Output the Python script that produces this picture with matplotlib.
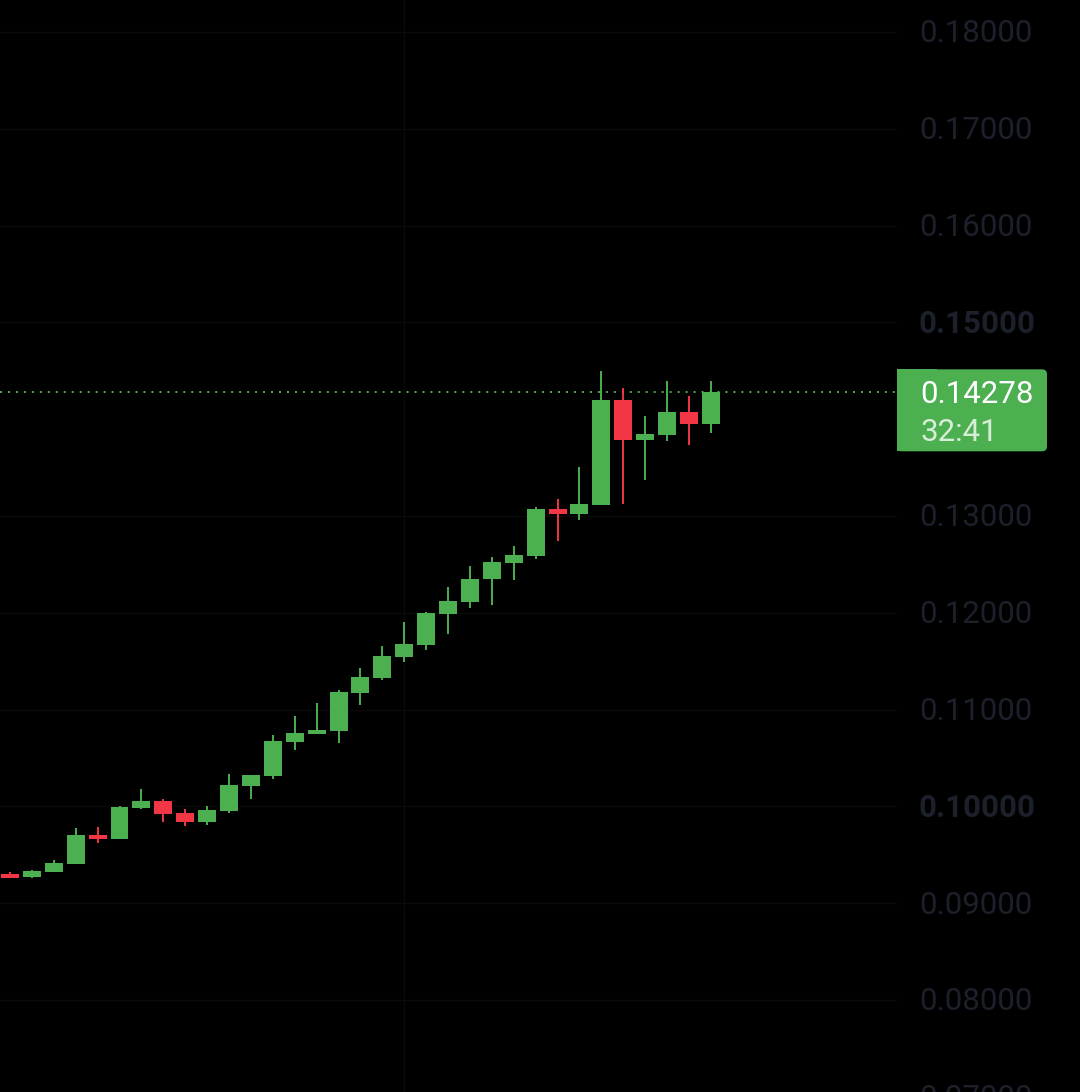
import matplotlib
matplotlib.use("Agg")
import matplotlib.pyplot as plt
from matplotlib.patches import FancyBboxPatch, Rectangle

# candle data, oldest first
opens = [0.09302, 0.09274, 0.09325, 0.09408, 0.09705, 0.09666, 0.09987, 0.10056, 0.09932, 0.09842,
         0.09956, 0.10214, 0.10317, 0.10668, 0.10751, 0.10782, 0.11175, 0.11330, 0.11546, 0.11670,
         0.11991, 0.12112, 0.12349, 0.12514, 0.12587, 0.13072, 0.13021, 0.13114, 0.14198, 0.13785,
         0.13837, 0.14074, 0.13950]
closes = [0.09265, 0.09333, 0.09415, 0.09705, 0.09666, 0.09994, 0.10056, 0.09925, 0.09842, 0.09963,
          0.10221, 0.10324, 0.10676, 0.10758, 0.10789, 0.11182, 0.11337, 0.11554, 0.11678, 0.11998,
          0.12122, 0.12349, 0.12525, 0.12597, 0.13072, 0.13021, 0.13124, 0.14198, 0.13785, 0.13847,
          0.14074, 0.13950, 0.14278]
highs = [0.09322, 0.09346, 0.09446, 0.09777, 0.09787, 0.10000, 0.10180, 0.10077, 0.09974, 0.10000,
         0.10335, 0.10324, 0.10738, 0.10934, 0.11068, 0.11202, 0.11430, 0.11657, 0.11905, 0.12008,
         0.12267, 0.12483, 0.12576, 0.12690, 0.13093, 0.13176, 0.13506, 0.14498, 0.14322, 0.14033,
         0.14395, 0.14240, 0.14395]
lows = [0.09260, 0.09263, 0.09325, 0.09408, 0.09625, 0.09666, 0.09974, 0.09842, 0.09801, 0.09811,
        0.09935, 0.10080, 0.10286, 0.10586, 0.10751, 0.10658, 0.11051, 0.11309, 0.11495, 0.11619,
        0.11784, 0.12050, 0.12081, 0.12339, 0.12556, 0.12742, 0.12959, 0.13114, 0.13124, 0.13372,
        0.13775, 0.13733, 0.13857]

price_ticks = [0.07, 0.08, 0.09, 0.10, 0.11, 0.12, 0.13, 0.14, 0.15, 0.16, 0.17, 0.18]
bold_ticks = [0.10, 0.15]
last_price_label = "0.14278"
countdown = "32:41"

GREEN = "#4caf50"
RED = "#f23645"
BG = "#000000"

plt.rcParams['font.family'] = ['Roboto', 'DejaVu Sans']

fig = plt.figure(figsize=(10.8, 10.92), dpi=100, facecolor=BG)
ax = fig.add_axes([0, 0, 897 / 1080, 1])
ax.set_facecolor(BG)
ax.set_xlim(-0.457, 40.5)
ax.set_ylim(0.0705, 0.18331)
ax.axis('off')

# faint grid
for p in price_ticks:
    if p == 0.14:
        continue
    ax.axhline(p, color="#0a0a0a", lw=1, zorder=0)
ax.axvline(18, color="#0a0a0a", lw=1, zorder=0)

xs = list(range(len(opens)))
cols = [GREEN if c >= o else RED for o, c in zip(opens, closes)]

ax.vlines(xs, lows, highs, colors=cols, lw=1.4, zorder=2)
bottoms = [min(o, c) for o, c in zip(opens, closes)]
heights = [max(abs(c - o), 0.00004) for o, c in zip(opens, closes)]
ax.bar(xs, heights, bottom=bottoms, width=0.82, color=cols, lw=0, zorder=3)

# last price dotted line
last = closes[-1]
ax.axhline(last, color=GREEN, lw=1.4, linestyle=(0, (1, 3.1)), zorder=1)

# price axis labels
ytr = ax.get_yaxis_transform()
for p in price_ticks:
    if p == 0.14:
        continue
    ax.text(919 / 897, p - 0.0002, "%.5f" % p, transform=ytr, clip_on=False,
            ha='left', va='center', fontsize=22.5, color="#1c202b",
            fontweight='bold' if p in bold_ticks else 'normal')

# last price tag
fig.canvas.draw()
py = ax.transData.transform((0, last))[1]
box_top = py + 23
box_bot = py - 59
x0, x1 = 897, 1047
fig.patches.append(Rectangle((x0, box_bot), 40, box_top - box_bot, transform=None,
                             facecolor=GREEN, edgecolor='none'))
fig.patches.append(FancyBboxPatch((x0 + 5, box_bot + 5), x1 - x0 - 10, box_top - box_bot - 10,
                                  boxstyle="round,pad=5", transform=None,
                                  facecolor=GREEN, edgecolor='none'))
fig.text(920 / 1080, (py - 2) / 1092, last_price_label, ha='left', va='center',
         fontsize=22.5, color="white")
fig.text(920 / 1080, (py - 40) / 1092, countdown, ha='left', va='center',
         fontsize=22.5, color="#d9eed9")

fig.savefig("out.png", dpi=100, facecolor=BG)
